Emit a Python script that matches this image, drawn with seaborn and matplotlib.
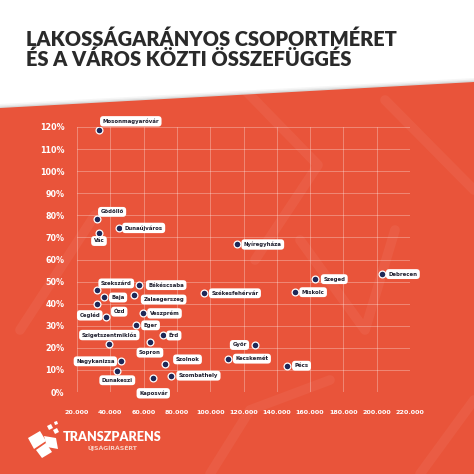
import matplotlib
matplotlib.use("Agg")

import pandas as pd
import matplotlib.pyplot as plt
import seaborn as sns
from matplotlib.patches import Polygon
from matplotlib.ticker import FuncFormatter

# ---------- data ----------
cities = [
    "Mosonmagyaróvár", "Gödöllő", "Dunaújváros", "Vác", "Szekszárd",
    "Békéscsaba", "Baja", "Zalaegerszeg", "Ózd", "Cegléd", "Veszprém",
    "Eger", "Érd", "Szigetszentmiklós", "Sopron", "Nagykanizsa", "Szolnok",
    "Dunakeszi", "Szombathely", "Kaposvár", "Nyíregyháza", "Szeged",
    "Debrecen", "Székesfehérvár", "Miskolc", "Győr", "Kecskemét", "Pécs",
]
population = [
    33200, 32000, 45000, 33200, 32200,
    57400, 36200, 54400, 32000, 37200, 59400,
    55200, 71500, 39400, 63800, 46200, 72900,
    44200, 76300, 65800, 116000, 163100,
    203400, 96500, 150700, 126700, 110900, 146100,
]
group_ratio = [
    118.5, 78.4, 74.3, 72.0, 46.0,
    48.4, 42.8, 43.7, 40.0, 33.8, 35.6,
    30.2, 25.6, 21.7, 22.8, 13.9, 12.5,
    9.4, 7.4, 6.2, 66.8, 51.1,
    53.4, 44.7, 45.2, 21.3, 15.1, 11.9,
]
x_ticks = [20000, 40000, 60000, 80000, 100000, 120000, 140000,
           160000, 180000, 200000, 220000]
y_ticks = [0, 10, 20, 30, 40, 50, 60, 70, 80, 90, 100, 110, 120]

title_lines = ["LAKOSSÁGARÁNYOS CSOPORTMÉRET", "ÉS A VÁROS KÖZTI ÖSSZEFÜGGÉS"]

# label placement: (alignment, dx px, dy px downwards)
label_pos = {
    "Mosonmagyaróvár": ("left", 3.5, -9), "Gödöllő": ("left", 3.5, -7),
    "Dunaújváros": ("left", 6, 0), "Vác": ("center", 0, 8),
    "Szekszárd": ("left", 3.5, -7), "Békéscsaba": ("left", 9, 0),
    "Baja": ("left", 7.5, 0), "Zalaegerszeg": ("left", 9, 4),
    "Ózd": ("left", 16.5, 8), "Cegléd": ("right", -5.5, -2),
    "Veszprém": ("left", 7, 0), "Eger": ("left", 8, 0),
    "Érd": ("left", 6, 0), "Szigetszentmiklós": ("center", 0, -9),
    "Sopron": ("center", 0, 11), "Nagykanizsa": ("right", -6, 0),
    "Szolnok": ("left", 10.5, -5), "Dunakeszi": ("center", 0, 9),
    "Szombathely": ("left", 8, 0), "Kaposvár": ("center", 0, 15),
    "Nyíregyháza": ("left", 7, 0), "Szeged": ("left", 8, 0),
    "Debrecen": ("left", 6, 0), "Székesfehérvár": ("left", 7, 0),
    "Miskolc": ("left", 7, 0), "Győr": ("right", -8, 0),
    "Kecskemét": ("left", 7, 0), "Pécs": ("left", 7.5, 0),
}

ORANGE = "#E9543A"
NAVY = "#1D2858"
DARK = "#2A2A2A"
W = 474.0
DPI = 100


def px(x, y):
    # pixel position (top-left origin) -> figure fraction
    return (x / W, 1 - y / W)


def main():
    sns.set_theme(style="white")
    plt.rcParams["font.family"] = ["DejaVu Sans"]

    df = pd.DataFrame({"city": cities, "population": population,
                       "ratio": group_ratio})

    fig = plt.figure(figsize=(W / DPI, W / DPI), dpi=DPI)
    fig.patch.set_facecolor("white")

    # ---------- background: slanted orange sheet ----------
    for k, a in [(4, 0.05), (2.5, 0.08), (1.2, 0.12)]:
        fig.patches.append(Polygon(
            [px(0, 108 - k), px(474, 82 - k), px(474, 474), px(0, 474)],
            closed=True, transform=fig.transFigure, facecolor="#555555",
            alpha=a, edgecolor="none", zorder=0))
    fig.patches.append(Polygon(
        [px(0, 108), px(474, 82), px(474, 474), px(0, 474)],
        closed=True, transform=fig.transFigure, facecolor=ORANGE,
        edgecolor="none", zorder=0))

    # faint watermark strokes
    strokes = [
        [(245, 90), (318, 165), (255, 260)],
        [(385, 100), (474, 190)],
        [(20, 330), (95, 215)],
        [(300, 240), (365, 330), (395, 230)],
        [(210, 474), (250, 410), (330, 380)],
        [(420, 474), (474, 400)],
    ]
    for s in strokes:
        xs, ys = zip(*[px(*p) for p in s])
        fig.add_artist(plt.Line2D(xs, ys, transform=fig.transFigure,
                                  color="white", alpha=0.05, lw=7,
                                  solid_capstyle="round", zorder=0.5))

    # ---------- title ----------
    for txt, base in zip(title_lines, [46, 65.5]):
        fig.text(*px(26, base), txt, color=DARK, fontsize=14.4,
                 fontweight="heavy", family=["Lato", "DejaVu Sans"],
                 va="baseline", ha="left")

    # ---------- scatter ----------
    ax = fig.add_axes([77 / W, 1 - 392 / W, 333 / W, 265 / W])
    ax.set_zorder(5)
    ax.set_facecolor("none")
    sns.scatterplot(data=df, x="population", y="ratio", ax=ax, s=24,
                    color=NAVY, edgecolor="white", linewidth=0.9,
                    zorder=4, legend=False)

    ax.set_xlim(20000, 220000)
    ax.set_ylim(0, 120)
    ax.set_xticks(x_ticks)
    ax.set_yticks(y_ticks)
    ax.xaxis.set_major_formatter(
        FuncFormatter(lambda v, p: f"{v:,.0f}".replace(",", ".")))
    ax.yaxis.set_major_formatter(FuncFormatter(lambda v, p: f"{v:.0f}%"))
    ax.grid(True, color="white", alpha=0.3, lw=0.7)
    for sp in ax.spines.values():
        sp.set_visible(False)
    ax.tick_params(axis="y", length=0, pad=9, labelsize=5.8,
                   labelcolor="white")
    ax.tick_params(axis="x", length=0, pad=13, labelsize=4.6,
                   labelcolor="white")
    for t in ax.get_xticklabels() + ax.get_yticklabels():
        t.set_fontweight("bold")
    ax.set_xlabel("")
    ax.set_ylabel("")

    k = 72.0 / DPI
    for _, r in df.iterrows():
        ha, dx, dy = label_pos[r["city"]]
        ax.annotate(r["city"], (r["population"], r["ratio"]),
                    xytext=(dx * k, -dy * k), textcoords="offset points",
                    ha=ha, va="center", fontsize=3.9, fontweight="bold",
                    color="#1E1E2E", zorder=5,
                    bbox=dict(boxstyle="round,pad=0.45,rounding_size=0.6",
                              fc="white", ec="none"))

    # ---------- logo ----------
    icon = [
        [(28, 438), (40, 431), (46, 441), (34, 449)],
        [(36, 450), (46, 443), (52, 452), (42, 458)],
        [(44, 436), (56, 438), (58, 449), (47, 447)],
        [(47, 426), (51, 424), (53, 428), (49, 430)],
        [(53, 430), (57, 428), (59, 432), (55, 434)],
        [(54, 422), (57, 421), (58, 424), (55, 425)],
    ]
    for poly in icon:
        fig.patches.append(Polygon([px(*p) for p in poly], closed=True,
                                   transform=fig.transFigure, fc="white",
                                   ec="none", zorder=3))
    fig.text(*px(63, 437), "TRANSZPARENS", color="white", fontsize=9.1,
             fontweight="heavy", family=["Lato", "DejaVu Sans"],
             va="center", ha="left")
    fig.text(*px(112, 448), "ÚJSÁGÍRÁSÉRT", color="#F7D0C4", fontsize=4.4,
             fontweight="bold", va="center", ha="center")

    fig.savefig("out.png", dpi=DPI)
    plt.close(fig)


if __name__ == "__main__":
    main()
